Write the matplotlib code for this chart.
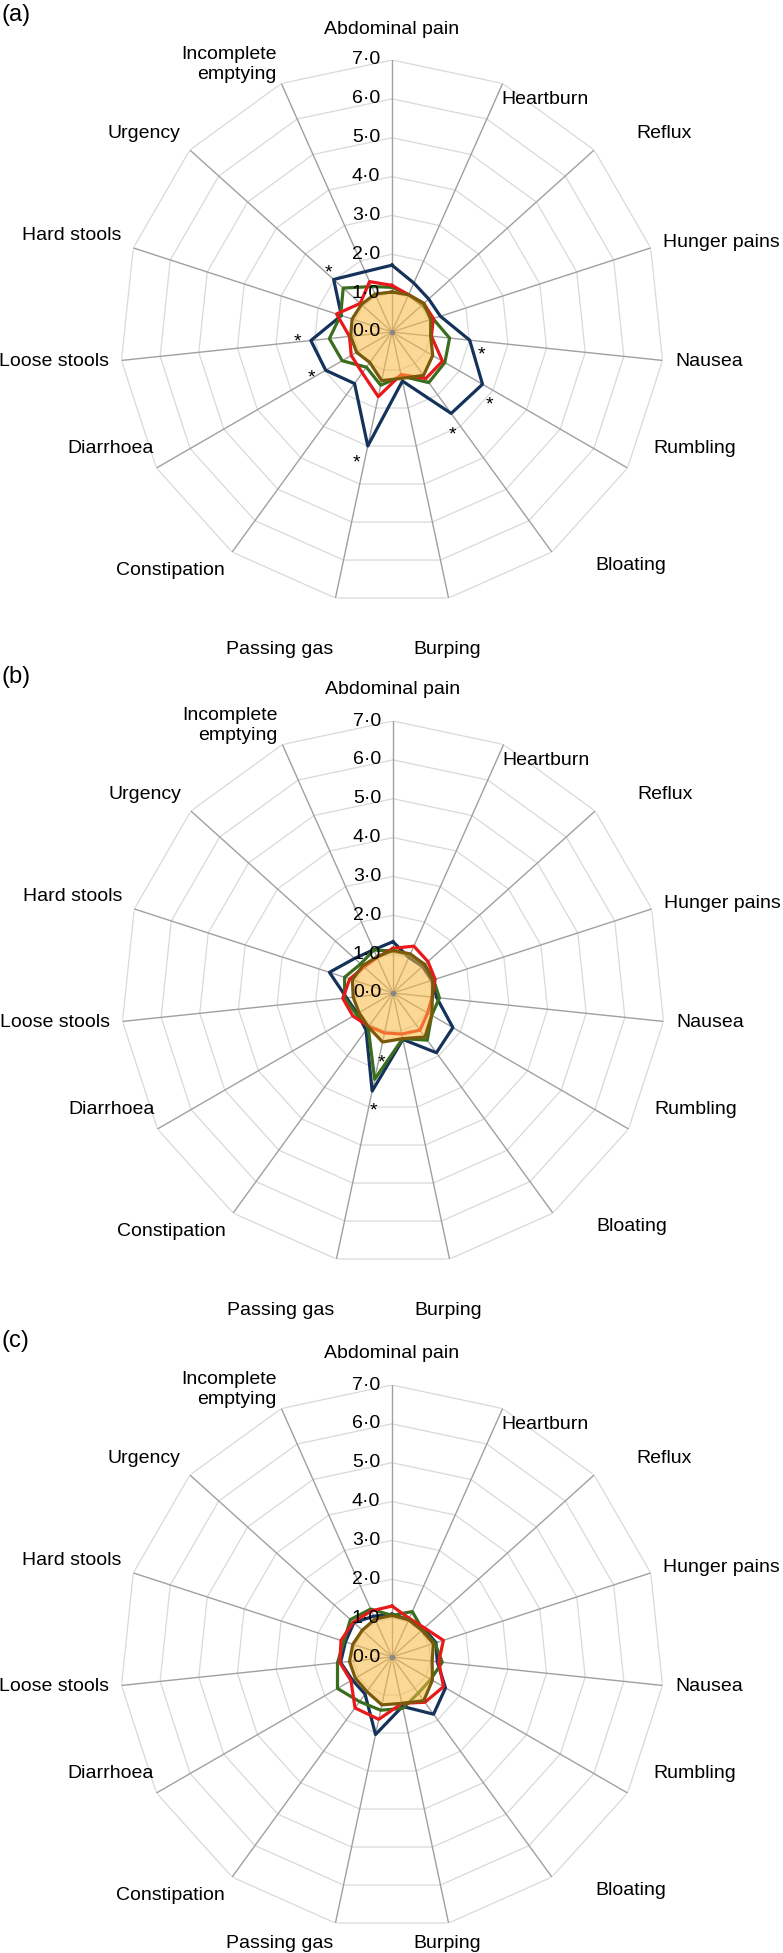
import matplotlib
matplotlib.use("Agg")
import matplotlib.pyplot as plt
import numpy as np

plt.rcParams['font.family'] = ['Liberation Sans', 'DejaVu Sans']

categories = ['Abdominal pain', 'Heartburn', 'Reflux', 'Hunger pains', 'Nausea',
              'Rumbling', 'Bloating', 'Burping', 'Passing gas', 'Constipation',
              'Diarrhoea', 'Loose stools', 'Hard stools', 'Urgency',
              'Incomplete\nemptying']
levels = [0, 1, 2, 3, 4, 5, 6, 7]
tick_labels = ['0·0', '1·0', '2·0', '3·0', '4·0', '5·0', '6·0', '7·0']

# panel (a)
navy_a = [1.72, 1.38, 1.27, 1.31, 2.01, 2.69, 2.59, 1.29, 3.00, 1.64, 1.97, 2.10, 1.37, 2.02, 1.70]
red_a = [1.20, 1.05, 1.10, 1.12, 1.02, 1.50, 1.48, 1.12, 1.70, 1.30, 1.21, 1.10, 1.50, 1.10, 1.42]
green_a = [1.15, 1.05, 1.05, 1.11, 1.49, 1.57, 1.61, 1.16, 1.40, 1.12, 1.48, 1.62, 1.39, 1.69, 1.28]
fill_a = [1.03, 1.05, 1.10, 1.05, 1.00, 1.21, 1.38, 1.22, 1.28, 0.97, 1.05, 1.07, 1.08, 1.06, 1.07]
stars_a = [(4, 'navy', 'out'), (5, 'navy', 'out'), (6, 'navy', 'out'), (8, 'navy', 'out'),
           (10, 'navy', 'out'), (11, 'navy', 'out'), (13, 'navy', 'out')]

# panel (b)
navy_b = [1.32, 1.00, 1.02, 1.05, 1.13, 1.78, 1.90, 1.22, 2.58, 1.18, 1.06, 1.20, 1.72, 1.33, 1.22]
red_b = [1.15, 1.32, 1.21, 1.14, 1.01, 1.03, 1.18, 1.08, 1.05, 1.06, 1.19, 1.30, 1.17, 1.00, 1.00]
green_b = [1.08, 1.08, 1.10, 1.10, 1.20, 1.15, 1.50, 1.20, 2.27, 1.09, 1.09, 1.25, 1.31, 1.12, 1.21]
fill_b = [1.10, 1.10, 1.09, 1.08, 1.02, 1.15, 1.40, 1.20, 1.29, 1.08, 1.01, 1.03, 1.10, 1.05, 1.02]
stars_b = [(8, 'green', 'in'), (8, 'navy', 'out')]

# panel (c)
navy_c = [1.10, 1.05, 1.10, 1.19, 1.17, 1.59, 1.82, 1.30, 2.04, 1.18, 1.18, 1.33, 1.26, 1.32, 1.15]
red_c = [1.31, 1.09, 1.12, 1.39, 1.21, 1.53, 1.44, 1.22, 1.64, 1.62, 1.22, 1.35, 1.38, 1.34, 1.30]
green_c = [1.07, 1.28, 1.06, 1.16, 1.30, 1.15, 1.15, 1.35, 1.40, 1.42, 1.62, 1.41, 1.30, 1.44, 1.35]
fill_c = [1.07, 1.05, 1.03, 1.12, 1.04, 1.20, 1.39, 1.22, 1.26, 1.10, 1.09, 1.10, 1.06, 1.03, 1.07]
stars_c = []

panels = [('(a)', navy_a, red_a, green_a, fill_a, stars_a),
          ('(b)', navy_b, red_b, green_b, fill_b, stars_b),
          ('(c)', navy_c, red_c, green_c, fill_c, stars_c)]

W, H = 783, 1953
fig = plt.figure(figsize=(W / 100, H / 100), dpi=100)

n = len(categories)
ang = np.arange(n) * 2 * np.pi / n
ang_c = np.append(ang, ang[0])
R = 272
centres = [(392, 332), (393, 993), (392, 1657)]
tag_y = [15, 677, 1341]

# extra shift (px) of some category labels, to sit like the original
nudge = {0: (0, 10), 1: (-6, -36), 2: (33, 0), 3: (0, -7), 5: (15, 34),
         6: (36, 5), 7: (-38, -31), 8: (0, -31), 10: (8, 34), 14: (0, -11)}
nudge_last = {7: (-38, 0), 8: (0, 0)}   # bottom panel: labels stay near the rim
px = 72 / 100

def closed(v):
    return np.append(v, v[0])

for p, (tag, navy, red, green, base, stars) in enumerate(panels):
    cx, cy = centres[p]
    ax = fig.add_axes([(cx - R) / W, 1 - (cy + R) / H, 2 * R / W, 2 * R / H], projection='polar')
    ax.set_theta_zero_location('N')
    ax.set_theta_direction(-1)
    ax.set_ylim(0, 7)
    ax.grid(False)
    ax.set_xticks([])
    ax.set_yticks([])
    ax.spines['polar'].set_visible(False)
    ax.patch.set_visible(False)

    # polygon grid + spokes
    for lv in levels[1:]:
        ax.plot(ang_c, [lv] * (n + 1), color='#d9d9d9', lw=0.9, zorder=1)
    for a in ang:
        ax.plot([a, a], [0, 7], color='#a0a0a0', lw=1.0, zorder=2)

    ax.plot(ang_c, closed(navy), color='#14325a', lw=2.3, zorder=3)
    ax.plot(ang_c, closed(green), color='#3a6e1e', lw=2.3, zorder=4)
    ax.plot(ang_c, closed(red), color='#e8191b', lw=2.3, zorder=5)
    ax.fill(ang_c, closed(base), color='#fbb940', alpha=0.55, lw=0, zorder=6)
    ax.plot(ang_c, closed(base), color='#7a5a0a', lw=2.3, zorder=7)
    ax.plot([0], [0], 'o', color='#888888', ms=3, zorder=8)

    for lv, tl in zip(levels, tick_labels):
        ax.annotate(tl, xy=(0, lv), xytext=(-8.5, 0), textcoords='offset points',
                    ha='right', va='center', fontsize=14, zorder=10)

    for i, (a, name) in enumerate(zip(ang, categories)):
        dx, dy = np.sin(a), np.cos(a)
        ha = 'left' if dx > 0.2 else ('right' if dx < -0.2 else 'center')
        va = 'bottom' if dy > 0.2 else ('top' if dy < -0.2 else 'center')
        pad = 9
        ex, ey = nudge.get(i, (0, 0))
        if p == 2 and i in nudge_last:
            ex, ey = nudge_last[i]
        ax.annotate(name, xy=(a, 7), xytext=(pad * dx + ex * px, pad * dy + ey * px),
                    textcoords='offset points', ha=ha, va=va, fontsize=14,
                    linespacing=1.2, annotation_clip=False)

    # significance stars
    series = {'navy': navy, 'green': green, 'red': red}
    shift = np.radians(4 if p == 0 else -2)
    for idx, sname, side in stars:
        r = series[sname][idx] + (0.33 if side == 'out' else -0.62)
        ax.annotate('*', xy=(ang[idx] + shift, r), xytext=(0, -5),
                    textcoords='offset points', ha='center', va='center',
                    fontsize=14, zorder=10)

    fig.text(0.002, 1 - tag_y[p] / H, tag, fontsize=17, ha='left', va='center')

fig.savefig('out.png', dpi=100)
